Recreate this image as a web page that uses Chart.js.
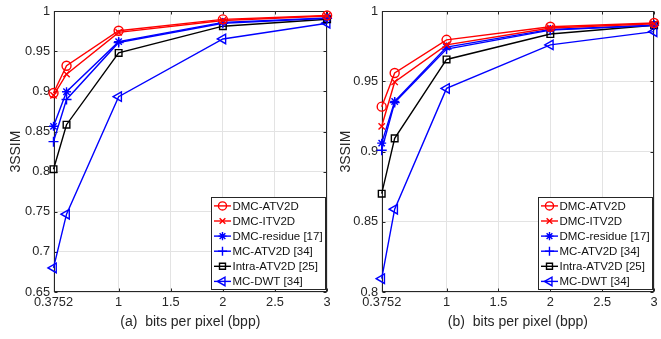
<!DOCTYPE html>
<html>
<head>
<meta charset="utf-8">
<script src="https://cdn.jsdelivr.net/npm/chart.js@4/dist/chart.umd.min.js"></script>
<style>
    html, body { margin: 0; padding: 0; background: #fff; }
    body { width: 661px; height: 339px; position: relative; overflow: hidden; }
    canvas { position: absolute; top: 0; }
    #chartA { left: 0; }
    #chartB { left: 330px; }
</style>
</head>
<body>
<canvas id="chartA" width="334" height="339"></canvas>
<canvas id="chartB" width="331" height="339"></canvas>
<script>
// bit rates shared by every curve
const bpp = [0.375, 0.5, 1, 2, 3];
const methods = ['DMC-ATV2D', 'DMC-ITV2D', 'DMC-residue [17]', 'MC-ATV2D [34]', 'Intra-ATV2D [25]', 'MC-DWT [34]'];

// panel (a)
const ssimA_dmcAtv   = [0.898, 0.932, 0.9756, 0.9898, 0.9947];
const ssimA_dmcItv   = [0.895, 0.9215, 0.9736, 0.9884, 0.9940];
const ssimA_residue  = [0.8565, 0.8996, 0.962, 0.986, 0.9915];
const ssimA_mcAtv    = [0.8374, 0.890, 0.961, 0.985, 0.991];
const ssimA_intra    = [0.803, 0.8585, 0.948, 0.9813, 0.990];
const ssimA_mcDwt    = [0.680, 0.747, 0.8935, 0.9654, 0.985];

// panel (b)
const ssimB_dmcAtv   = [0.932, 0.956, 0.9796, 0.9889, 0.9916];
const ssimB_dmcItv   = [0.918, 0.9496, 0.976, 0.988, 0.991];
const ssimB_residue  = [0.906, 0.9357, 0.9744, 0.987, 0.990];
const ssimB_mcAtv    = [0.901, 0.935, 0.973, 0.9865, 0.990];
const ssimB_intra    = [0.870, 0.9094, 0.9656, 0.9837, 0.990];
const ssimB_mcDwt    = [0.8095, 0.859, 0.945, 0.976, 0.9854];

const xTicks = [0.375, 1, 1.5, 2, 2.5, 3];
const xTickLabels = ['0.3752', '1', '1.5', '2', '2.5', '3'];
const yTicksA = [0.65, 0.7, 0.75, 0.8, 0.85, 0.9, 0.95, 1];
const yTickLabelsA = ['0.65', '0.7', '0.75', '0.8', '0.85', '0.9', '0.95', '1'];
const yTicksB = [0.8, 0.85, 0.9, 0.95, 1];
const yTickLabelsB = ['0.8', '0.85', '0.9', '0.95', '1'];

// marker look for each method
const colors = ['#ff0000', '#ff0000', '#0000ff', '#0000ff', '#000000', '#0000ff'];
const markers = ['circle', 'crossRot', 'star', 'cross', 'rect', 'triangle'];
const markerRadius = [4.5, 4.5, 4.5, 5, 4.7, 5.5];
const markerRotation = [0, 0, 0, 0, 0, -90];

const FONT = '"Liberation Sans", Arial, Helvetica, sans-serif';
const TEXT = '#262626';

// box outline with inward ticks on all four sides
const framePlugin = {
    id: 'frame',
    beforeDatasetsDraw(chart) {
        const { ctx, chartArea: a, scales } = chart;
        const L = Math.round(a.left) + 0.5, R = Math.round(a.right) - 0.5;
        const T = Math.round(a.top) + 0.5, B = Math.round(a.bottom) - 0.5;
        ctx.save();
        ctx.strokeStyle = TEXT;
        ctx.lineWidth = 1;
        ctx.strokeRect(L, T, R - L, B - T);
        ctx.beginPath();
        scales.x.ticks.forEach(t => {
            const px = Math.round(scales.x.getPixelForValue(t.value)) + 0.5;
            ctx.moveTo(px, B); ctx.lineTo(px, B - 3);
            ctx.moveTo(px, T); ctx.lineTo(px, T + 3);
        });
        scales.y.ticks.forEach(t => {
            const py = Math.round(scales.y.getPixelForValue(t.value)) + 0.5;
            ctx.moveTo(L, py); ctx.lineTo(L + 3, py);
            ctx.moveTo(R, py); ctx.lineTo(R - 3, py);
        });
        ctx.stroke();
        ctx.restore();
    }
};

// legend boxed in the lower right corner of the plot area
const boxLegendPlugin = {
    id: 'boxLegend',
    afterDatasetsDraw(chart) {
        const { ctx, chartArea: a } = chart;
        const sets = chart.data.datasets;
        ctx.save();
        ctx.font = '11.5px ' + FONT;
        const textW = Math.max(...sets.map(d => ctx.measureText(d.label).width));
        const w = 21 + textW + 3;
        const rowH = 15.1;
        const h = rowH * sets.length + 1.5;
        const x0 = a.right - 1.5 - w;
        const y0 = a.bottom - 2.7 - h;
        ctx.fillStyle = '#fff';
        ctx.fillRect(x0, y0, w, h);
        ctx.strokeStyle = TEXT;
        ctx.lineWidth = 1;
        ctx.strokeRect(Math.round(x0) + 0.5, Math.round(y0) + 0.5, Math.round(w), Math.round(h));
        sets.forEach((d, i) => {
            const cy = y0 + 8.7 + i * rowH;
            ctx.strokeStyle = d.borderColor;
            ctx.lineWidth = d.borderWidth;
            ctx.beginPath();
            ctx.moveTo(x0 + 2.5, cy);
            ctx.lineTo(x0 + 19.5, cy);
            ctx.stroke();
            ctx.fillStyle = 'rgba(0,0,0,0)';
            Chart.helpers.drawPoint(ctx, {
                pointStyle: d.pointStyle,
                radius: d.pointRadius * 0.9,
                rotation: d.pointRotation,
                borderWidth: d.pointBorderWidth
            }, x0 + 11, cy);
            ctx.fillStyle = '#111';
            ctx.textBaseline = 'middle';
            ctx.textAlign = 'left';
            ctx.fillText(d.label, x0 + 21, cy + 0.5);
        });
        ctx.restore();
    }
};

function makePanel(id, series, yMin, yMax, yTicks, yTickLabels, xTitle, yAxisWidth, padRight) {
    const datasets = series.map((vals, i) => ({
        label: methods[i],
        data: bpp.map((x, j) => ({ x: x, y: vals[j] })),
        borderColor: colors[i],
        borderWidth: 1.4,
        pointStyle: markers[i],
        pointRadius: markerRadius[i],
        pointRotation: markerRotation[i],
        pointBorderColor: colors[i],
        pointBackgroundColor: 'rgba(0,0,0,0)',
        pointBorderWidth: 1.4,
        tension: 0,
        clip: false
    }));

    return new Chart(document.getElementById(id), {
        type: 'line',
        data: { datasets },
        plugins: [framePlugin, boxLegendPlugin],
        options: {
            responsive: false,
            animation: false,
            devicePixelRatio: 1,
            events: [],
            layout: { padding: { top: 5, right: padRight, left: 0, bottom: 0 } },
            plugins: { legend: { display: false }, tooltip: { enabled: false } },
            scales: {
                x: {
                    type: 'linear',
                    min: 0.375,
                    max: 3,
                    afterBuildTicks: s => { s.ticks = xTicks.map(v => ({ value: v })); },
                    afterFit: s => { s.height = 47; },
                    ticks: {
                        autoSkip: false,
                        maxRotation: 0,
                        padding: 3,
                        color: TEXT,
                        font: { family: FONT, size: 12.8 },
                        callback: (v, idx) => xTickLabels[idx]
                    },
                    grid: { color: '#e3e3e3', drawTicks: false },
                    border: { display: false },
                    title: {
                        display: true,
                        text: xTitle,
                        color: TEXT,
                        font: { family: FONT, size: 14 },
                        padding: { top: 0, bottom: 8.5 }
                    }
                },
                y: {
                    type: 'linear',
                    min: yMin,
                    max: yMax,
                    afterBuildTicks: s => { s.ticks = yTicks.map(v => ({ value: v })); },
                    afterFit: s => { s.width = yAxisWidth; },
                    ticks: {
                        autoSkip: false,
                        padding: 3.5,
                        color: TEXT,
                        font: { family: FONT, size: 12.8 },
                        callback: (v, idx) => yTickLabels[idx]
                    },
                    grid: { color: '#e3e3e3', drawTicks: false },
                    border: { display: false },
                    title: {
                        display: true,
                        text: '3SSIM',
                        color: TEXT,
                        font: { family: FONT, size: 14 },
                        padding: { top: 7.5, bottom: 0 }
                    }
                }
            }
        }
    });
}

makePanel('chartA',
    [ssimA_dmcAtv, ssimA_dmcItv, ssimA_residue, ssimA_mcAtv, ssimA_intra, ssimA_mcDwt],
    0.65, 1, yTicksA, yTickLabelsA, '(a)  bits per pixel (bpp)', 53.5, 6);

makePanel('chartB',
    [ssimB_dmcAtv, ssimB_dmcItv, ssimB_residue, ssimB_mcAtv, ssimB_intra, ssimB_mcDwt],
    0.8, 1, yTicksB, yTickLabelsB, '(b)  bits per pixel (bpp)', 51.7, 5);
</script>
</body>
</html>
